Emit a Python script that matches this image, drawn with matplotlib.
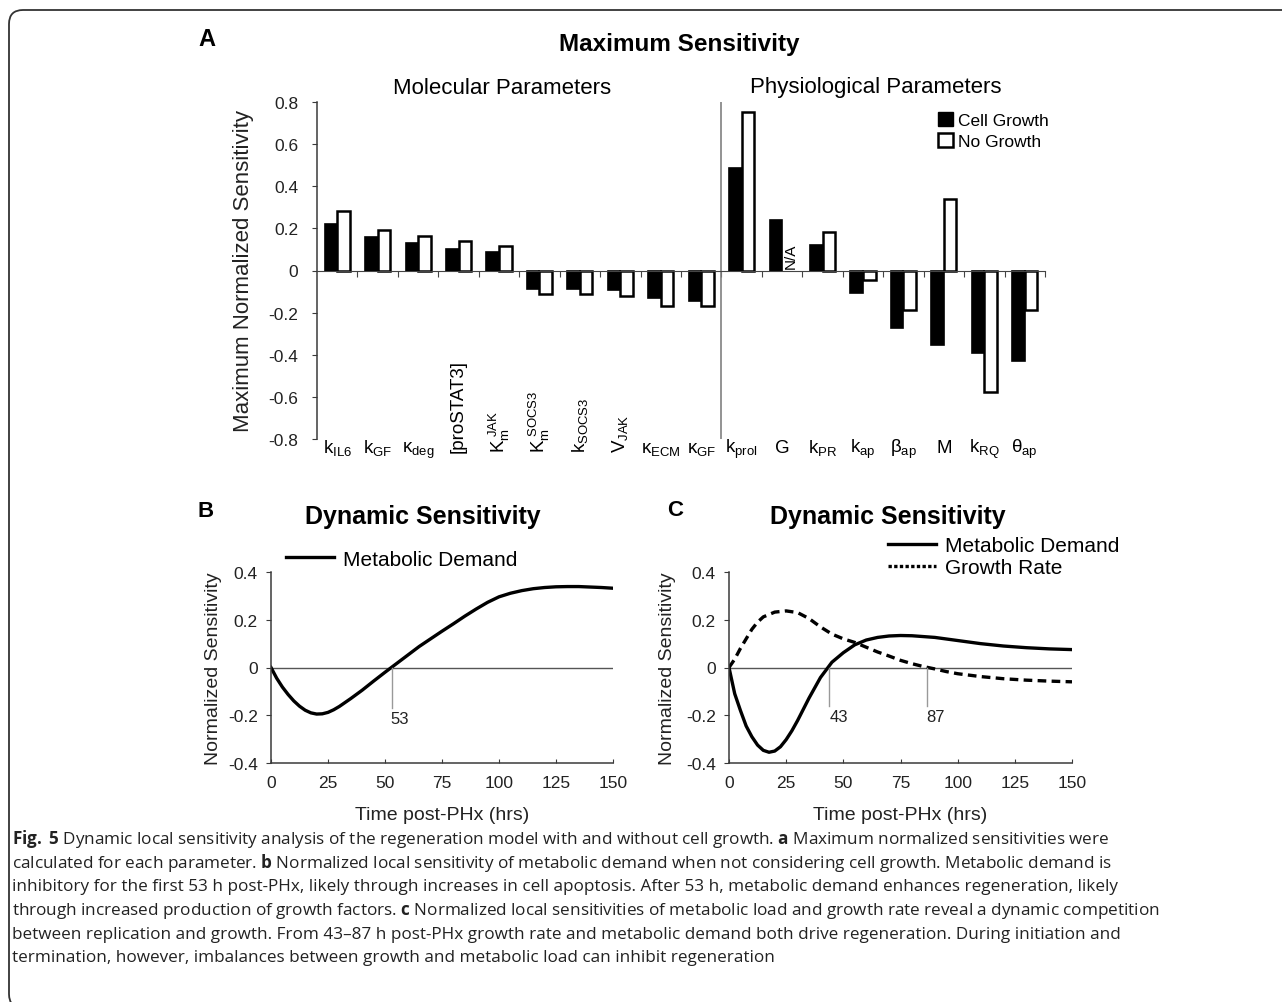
import numpy as np
import matplotlib.pyplot as plt
from matplotlib.patches import Patch, FancyBboxPatch
from matplotlib.lines import Line2D

plt.rcParams['font.family'] = ['Liberation Sans', 'DejaVu Sans']
plt.rcParams['mathtext.fontset'] = 'custom'
plt.rcParams['mathtext.rm'] = 'Liberation Sans'
plt.rcParams['mathtext.it'] = 'Liberation Sans:italic'
plt.rcParams['mathtext.bf'] = 'Open Sans:bold'
plt.rcParams['axes.unicode_minus'] = False

# ---- panel A: maximum sensitivity ----
params = [r'$\mathregular{k_{IL6}}$', r'$\mathregular{k_{GF}}$', r'$\mathregular{κ_{deg}}$',
          '[proSTAT3]', r'$\mathregular{K_m^{\ JAK}}$', r'$\mathregular{K_m^{\ SOCS3}}$',
          r'$\mathregular{k_{SOCS3}}$', r'$\mathregular{V_{JAK}}$', r'$\mathregular{κ_{ECM}}$',
          r'$\mathregular{κ_{GF}}$', r'$\mathregular{k_{prol}}$', 'G', r'$\mathregular{k_{PR}}$',
          r'$\mathregular{k_{ap}}$', r'$\mathregular{β_{ap}}$', 'M', r'$\mathregular{k_{RQ}}$',
          r'$\mathregular{θ_{ap}}$']
rotated = [0, 0, 0, 1, 1, 1, 1, 1, 0, 0, 0, 0, 0, 0, 0, 0, 0, 0]
cell_growth = [0.22, 0.158, 0.13, 0.10, 0.09, -0.09, -0.09, -0.093, -0.131, -0.144,
               0.487, 0.239, 0.122, -0.109, -0.275, -0.356, -0.39, -0.43]
no_growth = [0.283, 0.194, 0.166, 0.138, 0.117, -0.112, -0.112, -0.119, -0.169, -0.169,
             0.751, np.nan, 0.183, -0.046, -0.188, 0.34, -0.577, -0.188]
yticks_a = [-0.8, -0.6, -0.4, -0.2, 0, 0.2, 0.4, 0.6, 0.8]
ylabels_a = ['-0.8', '-0.6', '-0.4', '-0.2', '0', '0.2', '0.4', '0.6', '0.8']

# ---- panel B: metabolic demand, no growth ----
t_b = [0, 2.5, 5, 7.5, 10, 12.5, 15, 17.5, 20, 22.5, 25, 27.5, 30, 35, 40, 45, 50, 55, 60,
       65, 70, 75, 80, 85, 90, 95, 100, 105, 110, 115, 120, 125, 130, 135, 140, 145, 150]
demand_b = [0, -0.045, -0.082, -0.113, -0.14, -0.162, -0.179, -0.19, -0.195, -0.194, -0.188,
            -0.177, -0.163, -0.13, -0.095, -0.057, -0.02, 0.016, 0.052, 0.088, 0.12, 0.152,
            0.183, 0.215, 0.245, 0.273, 0.296, 0.311, 0.322, 0.33, 0.335, 0.338, 0.339,
            0.339, 0.337, 0.335, 0.332]

# ---- panel C: metabolic demand and growth rate, with growth ----
t_c1 = [0, 2.5, 5, 7.5, 10, 12.5, 15, 17.5, 20, 22.5, 25, 27.5, 30, 35, 40, 45, 50, 55, 60,
        65, 70, 75, 80, 90, 100, 110, 120, 130, 140, 150]
demand_c = [0, -0.11, -0.18, -0.245, -0.29, -0.325, -0.347, -0.355, -0.35, -0.332, -0.302,
            -0.265, -0.222, -0.128, -0.042, 0.022, 0.062, 0.095, 0.115, 0.126, 0.132, 0.134,
            0.133, 0.126, 0.113, 0.1, 0.09, 0.083, 0.078, 0.075]
t_c2 = [0, 2.5, 5, 7.5, 10, 12.5, 15, 20, 25, 30, 35, 40, 45, 50, 55, 60, 65, 70, 75, 80,
        85, 90, 95, 100, 110, 120, 130, 140, 150]
growth_c = [0, 0.035, 0.08, 0.12, 0.16, 0.19, 0.212, 0.232, 0.237, 0.23, 0.205, 0.17, 0.14,
            0.12, 0.105, 0.085, 0.065, 0.048, 0.03, 0.016, 0.004, -0.006, -0.017, -0.026,
            -0.038, -0.047, -0.053, -0.057, -0.06]
xticks_t = [0, 25, 50, 75, 100, 125, 150]
yticks_bc = [-0.4, -0.2, 0, 0.2, 0.4]
ylabels_bc = ['-0.4', '-0.2', '0', '0.2', '0.4']

caption = [
    r'$\mathbf{Fig.}$ $\mathbf{5}$ Dynamic local sensitivity analysis of the regeneration model with and without cell growth. $\mathbf{a}$ Maximum normalized sensitivities were',
    r'calculated for each parameter. $\mathbf{b}$ Normalized local sensitivity of metabolic demand when not considering cell growth. Metabolic demand is',
    'inhibitory for the first 53 h post-PHx, likely through increases in cell apoptosis. After 53 h, metabolic demand enhances regeneration, likely',
    r'through increased production of growth factors. $\mathbf{c}$ Normalized local sensitivities of metabolic load and growth rate reveal a dynamic competition',
    'between replication and growth. From 43–87 h post-PHx growth rate and metabolic demand both drive regeneration. During initiation and',
    'termination, however, imbalances between growth and metabolic load can inhibit regeneration',
]

W, H = 1282, 1003
fig = plt.figure(figsize=(W / 100, H / 100), dpi=100)

def fx(px):
    return px / W

def fy(py):
    return 1 - py / H

# outer rounded frame
frame = FancyBboxPatch((0.09, -0.06), 13.5, 9.98, boxstyle='round,pad=0,rounding_size=0.14',
                       transform=fig.dpi_scale_trans, facecolor='none', edgecolor='#333333', lw=1.3)
fig.patches.append(frame)

spine_col = '#3a3a3a'

# ================= panel A =================
ax = fig.add_axes([fx(317), fy(440), fx(728), 337 / H])
x = np.arange(len(params))
w = 0.31
ax.bar(x - w / 2, cell_growth, w, color='black', edgecolor='black', lw=1.2, label='Cell Growth')
ax.bar(x + w / 2, no_growth, w, color='white', edgecolor='black', lw=1.8, label='No Growth')
ax.set_xlim(-0.5, len(params) - 0.5)
ax.set_ylim(-0.8, 0.8)
ax.spines['top'].set_visible(False)
ax.spines['right'].set_visible(False)
ax.spines['bottom'].set_position(('data', 0))
ax.spines['bottom'].set_color('#444444')
ax.spines['left'].set_color(spine_col)
ax.spines['left'].set_linewidth(1.1)
ax.set_xticks(np.arange(0.5, len(params), 1))
ax.set_xticklabels([])
ax.tick_params(axis='x', direction='out', length=4, color='#444444')
ax.set_yticks(yticks_a)
ax.set_yticklabels(ylabels_a)
ax.tick_params(axis='y', direction='out', length=3.5, pad=10, labelsize=12.5, color=spine_col,
               labelcolor='#222222')
ax.axvline(9.5, color='#808080', lw=1.2)
ax.set_ylabel('Maximum Normalized Sensitivity', fontsize=16, color='#222222')
ax.yaxis.set_label_coords(-0.087, 0.5)
for i, lab in enumerate(params):
    if rotated[i]:
        ax.text(i, -0.862, lab, rotation=90, ha='center', va='bottom', fontsize=13.5)
    else:
        ax.text(i, -0.862, lab, ha='center', va='baseline', fontsize=13.5)
ax.text(11 + w / 2 + 0.05, 0.01, 'N/A', rotation=90, ha='center', va='bottom', fontsize=11)

fig.text(fx(207), fy(39), 'A', fontsize=17, fontweight='bold', ha='center', va='center')
fig.text(fx(679), fy(45), 'Maximum Sensitivity', fontsize=17.5, fontweight='bold',
         ha='center', va='center')
fig.text(fx(502), fy(88), 'Molecular Parameters', fontsize=16, ha='center', va='center')
fig.text(fx(876), fy(88), 'Physiological Parameters', fontsize=16, ha='center', va='center')
fig.legend(handles=[Patch(facecolor='black', edgecolor='black'),
                    Patch(facecolor='white', edgecolor='black', lw=1.8)],
           labels=['Cell Growth', 'No Growth'], loc='upper left',
           bbox_to_anchor=(fx(938), fy(113)), frameon=False, fontsize=12.5,
           handlelength=0.85, handleheight=0.85, handletextpad=0.3, labelspacing=0.3,
           borderpad=0, borderaxespad=0)


def dyn_axes(rect, ylab_x):
    a = fig.add_axes(rect)
    a.set_xlim(0, 150)
    a.set_ylim(-0.4, 0.4)
    a.spines['top'].set_visible(False)
    a.spines['right'].set_visible(False)
    for s in ('left', 'bottom'):
        a.spines[s].set_color(spine_col)
        a.spines[s].set_linewidth(1.1)
    a.set_xticks(xticks_t)
    a.set_yticks(yticks_bc)
    a.set_yticklabels(ylabels_bc)
    a.tick_params(axis='x', direction='in', length=3, pad=9, labelsize=12.5, color=spine_col,
                  labelcolor='#222222')
    a.tick_params(axis='y', direction='out', length=3.5, pad=6, labelsize=12.5, color=spine_col,
                  labelcolor='#222222')
    a.axhline(0, color='#555555', lw=1)
    a.set_xlabel('Time post-PHx (hrs)', fontsize=14, color='#222222')
    a.xaxis.set_label_coords(0.5, -0.225)
    a.set_ylabel('Normalized Sensitivity', fontsize=14, color='#222222')
    a.yaxis.set_label_coords(ylab_x, 0.5)
    return a


# ================= panel B =================
axb = dyn_axes([fx(271), fy(764), fx(342), 191 / H], -0.143)
axb.plot(t_b, demand_b, color='black', lw=2.4, label='Metabolic Demand')
axb.plot([53, 53], [0, -0.17], color='#999999', lw=1)
axb.text(52.5, -0.215, '53', fontsize=12, ha='left', va='center', color='#222222')
axb.legend(loc='center left', bbox_to_anchor=(0.044, 1.068), frameon=False, fontsize=15,
           handlelength=2.3, handletextpad=0.45, borderpad=0, borderaxespad=0)
fig.text(fx(206), fy(512), 'B', fontsize=16, fontweight='bold', ha='center', va='center')
fig.text(fx(423), fy(517), 'Dynamic Sensitivity', fontsize=18, fontweight='bold',
         ha='center', va='center')

# ================= panel C =================
axc = dyn_axes([fx(729), fy(764), fx(343), 191 / H], -0.1545)
axc.plot(t_c1, demand_c, color='black', lw=2.4)
axc.plot(t_c2, growth_c, color='black', lw=2.4, dashes=(2.6, 1.6))
axc.plot([43.8, 43.8], [0, -0.16], color='#999999', lw=1)
axc.plot([86.5, 86.5], [0, -0.16], color='#999999', lw=1)
axc.text(44.2, -0.205, '43', fontsize=12, ha='left', va='center', color='#222222')
axc.text(86.4, -0.205, '87', fontsize=12, ha='left', va='center', color='#222222')
axc.legend(handles=[Line2D([], [], color='black', lw=2.4),
                    Line2D([], [], color='black', lw=2.4, linestyle=(0, (1, 0.7)))],
           labels=['Metabolic Demand', 'Growth Rate'], loc='center left',
           bbox_to_anchor=(0.4636, 1.08), frameon=False, fontsize=15, handlelength=2.3,
           handletextpad=0.45, labelspacing=0.15, borderpad=0, borderaxespad=0)
fig.text(fx(675), fy(511), 'C', fontsize=16, fontweight='bold', ha='center', va='center')
fig.text(fx(888), fy(517), 'Dynamic Sensitivity', fontsize=18, fontweight='bold',
         ha='center', va='center')

# ================= caption =================
for k, line in enumerate(caption):
    fig.text(fx(12), fy(844 + 23.7 * k), line, fontsize=12.3, family='Open Sans',
             ha='left', va='baseline', color='#222222')

fig.savefig('out.png', dpi=100)
